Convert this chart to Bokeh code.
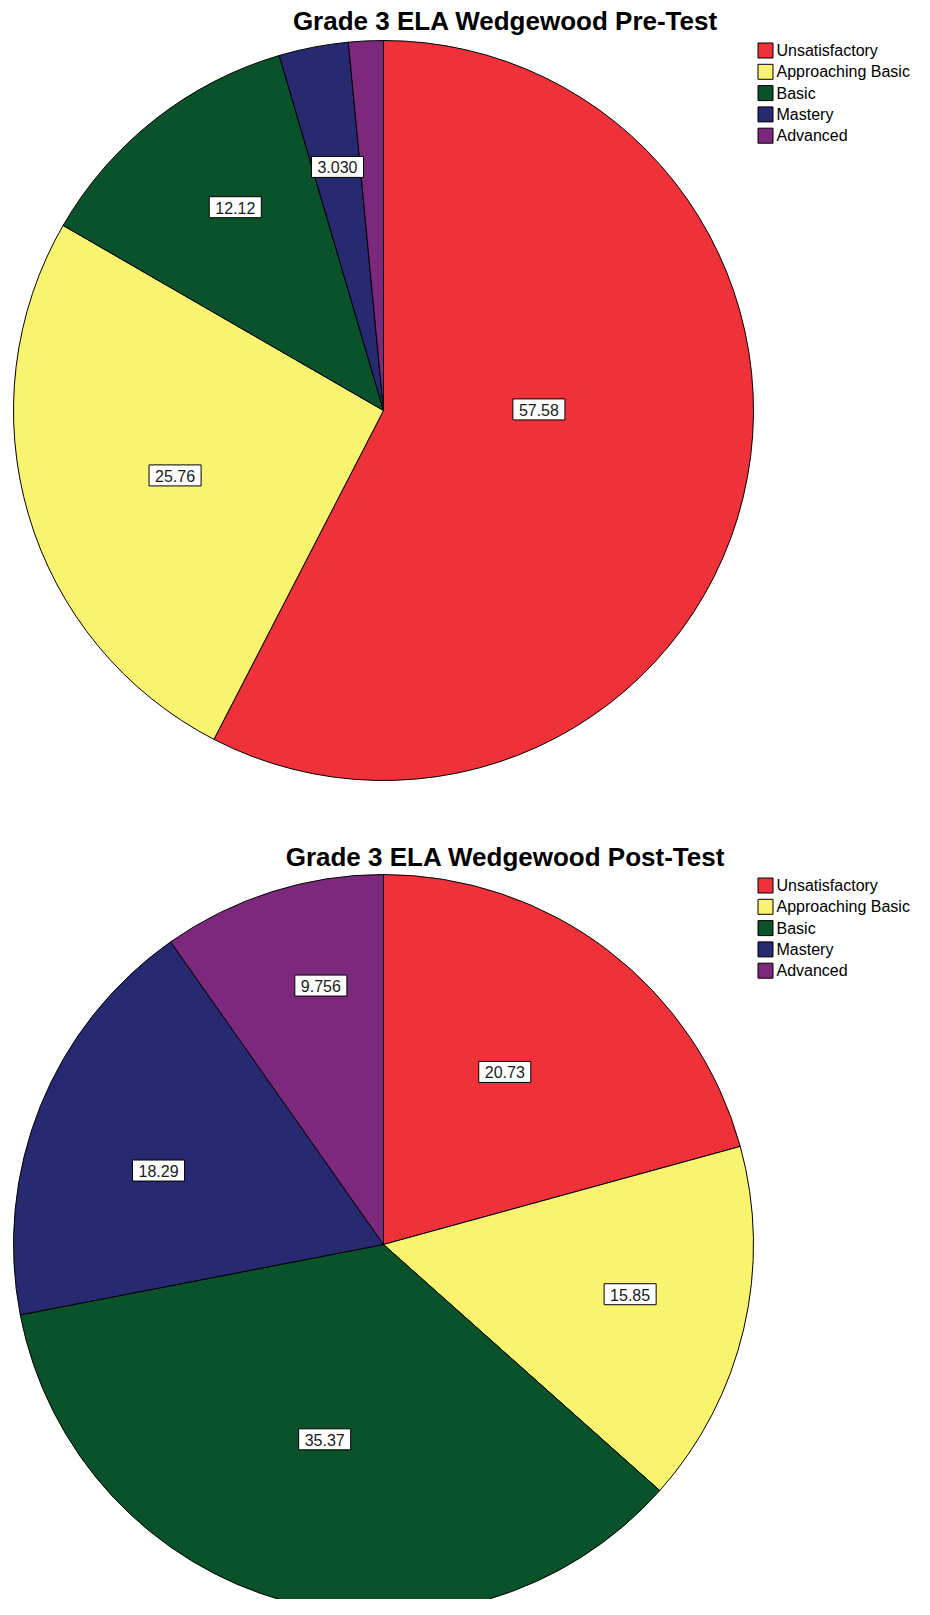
import numpy as np
from bokeh.plotting import figure
from bokeh.models import Range1d, ColumnDataSource
from bokeh.core.properties import value
from bokeh.embed import file_html
from bokeh.resources import INLINE

# ---- data ----
categories = ["Unsatisfactory", "Approaching Basic", "Basic", "Mastery", "Advanced"]
colors = ["#EF3239", "#F9F36F", "#0A5229", "#272A70", "#7C287D"]
pre_values = [57.58, 25.76, 12.12, 3.030, 1.515]
post_values = [20.73, 15.85, 35.37, 18.29, 9.756]
pre_show_label = [True, True, True, True, False]
post_show_label = [True, True, True, True, True]
titles = ["Grade 3 ELA Wedgewood Pre-Test", "Grade 3 ELA Wedgewood Post-Test"]

# ---- layout (pixels) ----
W, H = 914, 1599
R = 370
centers = [(383, 410), (383, 1244)]
title_pos = [(505, 20), (505, 856)]
legend_origin = [(765, 50), (765, 885)]
legend_step = 21.3
# label placement: radial fraction of R and angle (deg, clockwise from top)
pre_label_r = [0.42, 0.59, 0.68, 0.67, 0.7]
post_label_r = [0.57, 0.68, 0.55, 0.64, 0.72]
pre_label_angle = [89.6, 252.7, 323.9, 349.3, None]
post_label_angle = [35.1, 101.4, 196.8, 288.2, 346.4]

p = figure(width=W, height=H, output_backend="svg", toolbar_location=None,
           x_range=Range1d(0, W), y_range=Range1d(-H, 0),
           min_border=0, outline_line_color=None, background_fill_color="white")
p.axis.visible = False
p.grid.visible = False

FONT = "Liberation Sans"

def draw_pie(vals, show, lrs, angles, center, title, tpos, lorig):
    vals = np.array(vals, dtype=float)
    frac = vals / vals.sum()
    cum = np.concatenate([[0], np.cumsum(frac)])
    start = np.pi / 2 - 2 * np.pi * cum[:-1]
    end = np.pi / 2 - 2 * np.pi * cum[1:]
    cx, cy = center
    src = ColumnDataSource(dict(start=start, end=end, color=colors))
    p.wedge(x=cx, y=-cy, radius=R, start_angle="start", end_angle="end",
            direction="clock", fill_color="color", line_color="black",
            line_width=1, source=src)
    # labels
    lx, ly, lt = [], [], []
    for i, v in enumerate(vals):
        if not show[i]:
            continue
        deg = angles[i] if angles[i] is not None else 360 * (cum[i] + cum[i + 1]) / 2
        th = np.radians(deg)
        lx.append(cx + lrs[i] * R * np.sin(th))
        ly.append(-(cy - lrs[i] * R * np.cos(th)))
        lt.append(f"{v:#.4g}")
    p.text(x=lx, y=ly, text=lt, text_align="center", text_baseline="middle",
           text_font=value(FONT), text_font_size="16px", text_color="#1a1a1a",
           background_fill_color="white", border_line_color="black",
           border_line_width=1, padding=dict(left=6, right=6, top=5, bottom=4))
    # title
    p.text(x=[tpos[0]], y=[-tpos[1]], text=[title], text_align="center",
           text_baseline="alphabetic", text_font=value(FONT),
           text_font_size="26px", text_font_style="bold", text_color="black")
    # legend
    ox, oy = lorig
    ys = [-(oy + i * legend_step) for i in range(len(categories))]
    p.rect(x=[ox] * len(categories), y=ys, width=15, height=15,
           width_units="screen", height_units="screen",
           fill_color=colors, line_color="black", line_width=1)
    p.text(x=[ox + 11] * len(categories), y=ys, text=categories,
           text_align="left", text_baseline="middle", text_font=value(FONT),
           text_font_size="16px", text_color="black")

draw_pie(pre_values, pre_show_label, pre_label_r, pre_label_angle,
         centers[0], titles[0], title_pos[0], legend_origin[0])
draw_pie(post_values, post_show_label, post_label_r, post_label_angle,
         centers[1], titles[1], title_pos[1], legend_origin[1])

open("out.html", "w").write(file_html(p, INLINE))
